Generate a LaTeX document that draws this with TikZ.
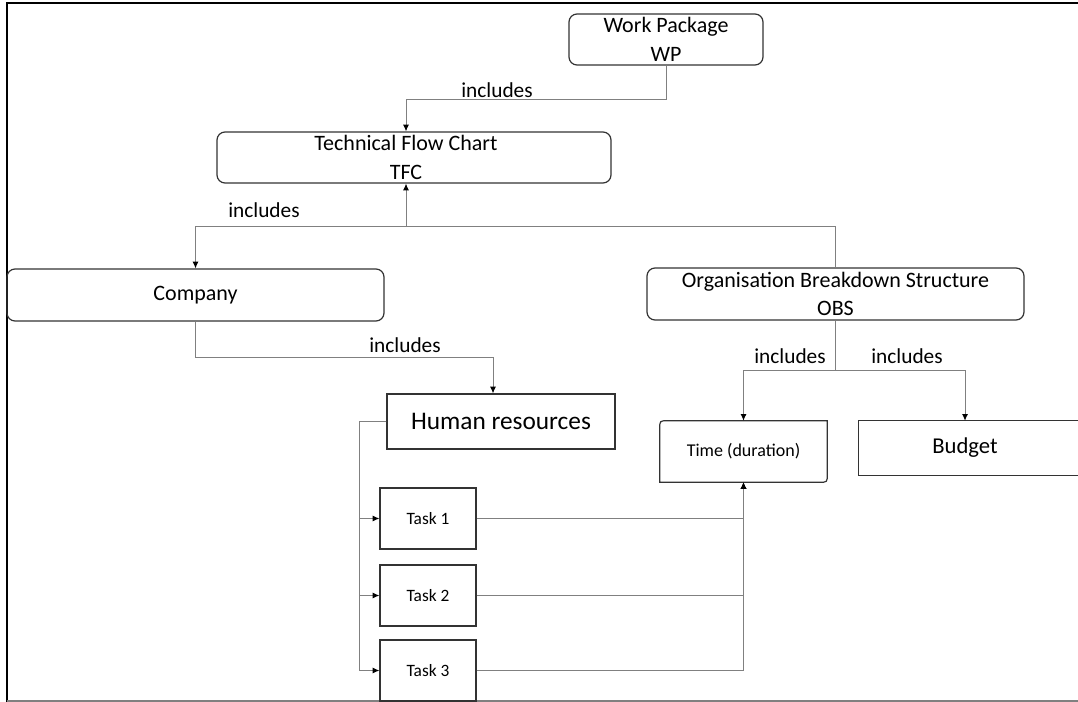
\documentclass[tikz,border=0pt]{standalone}
\usepackage{fontspec}
\setmainfont{Carlito}
\usetikzlibrary{arrows.meta,calc}
\tikzset{
  box/.style={draw=black!80, line width=0.9pt, inner sep=0pt, align=center},
  rbox/.style={box, rounded corners=6pt},
  plain/.style={inner sep=0pt, align=center},
  conn/.style={draw=black!50, line width=0.75pt},
  arr/.style={conn, -{Latex[length=5pt,width=4.5pt,color=black]}},
  lbl/.style={inner sep=0pt, font=\fontsize{16}{19}\selectfont},
  big/.style={font=\fontsize{16.5}{21.5}\selectfont},
}
\begin{document}
\begin{tikzpicture}[x=0.75pt,y=-0.75pt]
\useasboundingbox (0,0) rectangle (1078,702);
\clip (0,0) rectangle (1078,702);
% frame
\draw[black, line width=1.5pt] (1078,3.5) -- (6.5,3.5) -- (6.5,702);
\draw[black!50, line width=1pt] (6.5,701) -- (1078,701);

% nodes
\node[rbox, big, minimum width=145.5pt, minimum height=38.25pt] (wp) at (666,39.5) {Work Package\\WP};
\node[rbox, big, minimum width=295.5pt, minimum height=38.25pt] (tfc) at (414,157.5) {Technical Flow Chart\hspace*{12pt}\\TFC\hspace*{12pt}};
\node[rbox, big, minimum width=282.75pt, minimum height=39pt] (company) at (195.5,295) {Company};
\node[rbox, big, minimum width=282.75pt, minimum height=39pt] (obs) at (835.5,294) {Organisation Breakdown Structure\\OBS};
\node[box, font=\fontsize{19}{23}\selectfont, minimum width=171pt, minimum height=41.25pt] (hr) at (501,421.5) {Human resources};
\node[box, font=\fontsize{13}{16}\selectfont, minimum width=72pt, minimum height=45.75pt] (task1) at (428,518.5) {Task 1};
\node[box, font=\fontsize{13}{16}\selectfont, minimum width=72pt, minimum height=45.75pt] (task2) at (428,595.5) {Task 2};
\node[box, font=\fontsize{13}{16}\selectfont, minimum width=72pt, minimum height=45.75pt] (task3) at (428,670.5) {Task 3};
\node[plain, font=\fontsize{13.5}{16}\selectfont, minimum width=125.25pt, minimum height=45.75pt] (time) at (743.5,451.5) {Time (duration)};
\node[plain, font=\fontsize{17}{20}\selectfont, minimum width=159pt, minimum height=40.5pt] (budget) at (965,448) {Budget};

% special box outlines
\draw[draw=black!80, line width=0.9pt] (time.south west) -- ($(time.north west)+(0,8)$) .. controls (time.north west) .. ($(time.north west)+(8,0)$) -- (time.north east) -- ($(time.south east)+(0,-8)$) .. controls (time.south east) .. ($(time.south east)+(-8,0)$) -- cycle;
\draw[draw=black!80, line width=0.9pt] ($(budget.north west)+(260,0)$) -- (budget.north west) -- (budget.south west) -- ($(budget.south west)+(260,0)$);

% helper coordinates
\coordinate (x406) at (406,0);
\coordinate (x493) at (493,0);
\coordinate (bus) at (359,0);
\coordinate (j2) at (406,227);

% WP -> TFC
\draw[arr] (wp.south) -- ++(0,34) -| (tfc.north -| x406);
\node[lbl] (l1) at (497,90) {includes};

% TFC level
\draw[arr] (j2) -- (tfc.south -| j2);
\draw[arr] (j2) -| (company.north);
\draw[conn] (j2) -| (obs.north);
\node[lbl] (l2) at (264,210) {includes};

% Company -> HR
\draw[arr] (company.south) -- ++(0,36) -| (hr.north -| x493);
\node[lbl] (l3) at (405,345) {includes};

% HR -> tasks
\draw[arr] (hr.west) -| (bus |- task1.west) -- (task1.west);
\draw[arr] (hr.west) -| (bus |- task2.west) -- (task2.west);
\draw[arr] (hr.west) -| (bus |- task3.west) -- (task3.west);

% tasks -> time
\draw[arr] (task1.east) -| (time.south);
\draw[arr] (task2.east) -| (time.south);
\draw[arr] (task3.east) -| (time.south);

% OBS -> time, budget
\draw[conn] (obs.south) -- ++(0,50) coordinate (j3);
\draw[arr] (j3) -| (time.north);
\draw[arr] (j3) -| (budget.north);
\node[lbl] (l4) at (790,356) {includes};
\node[lbl] (l5) at (907,356) {includes};
\end{tikzpicture}
\end{document}
